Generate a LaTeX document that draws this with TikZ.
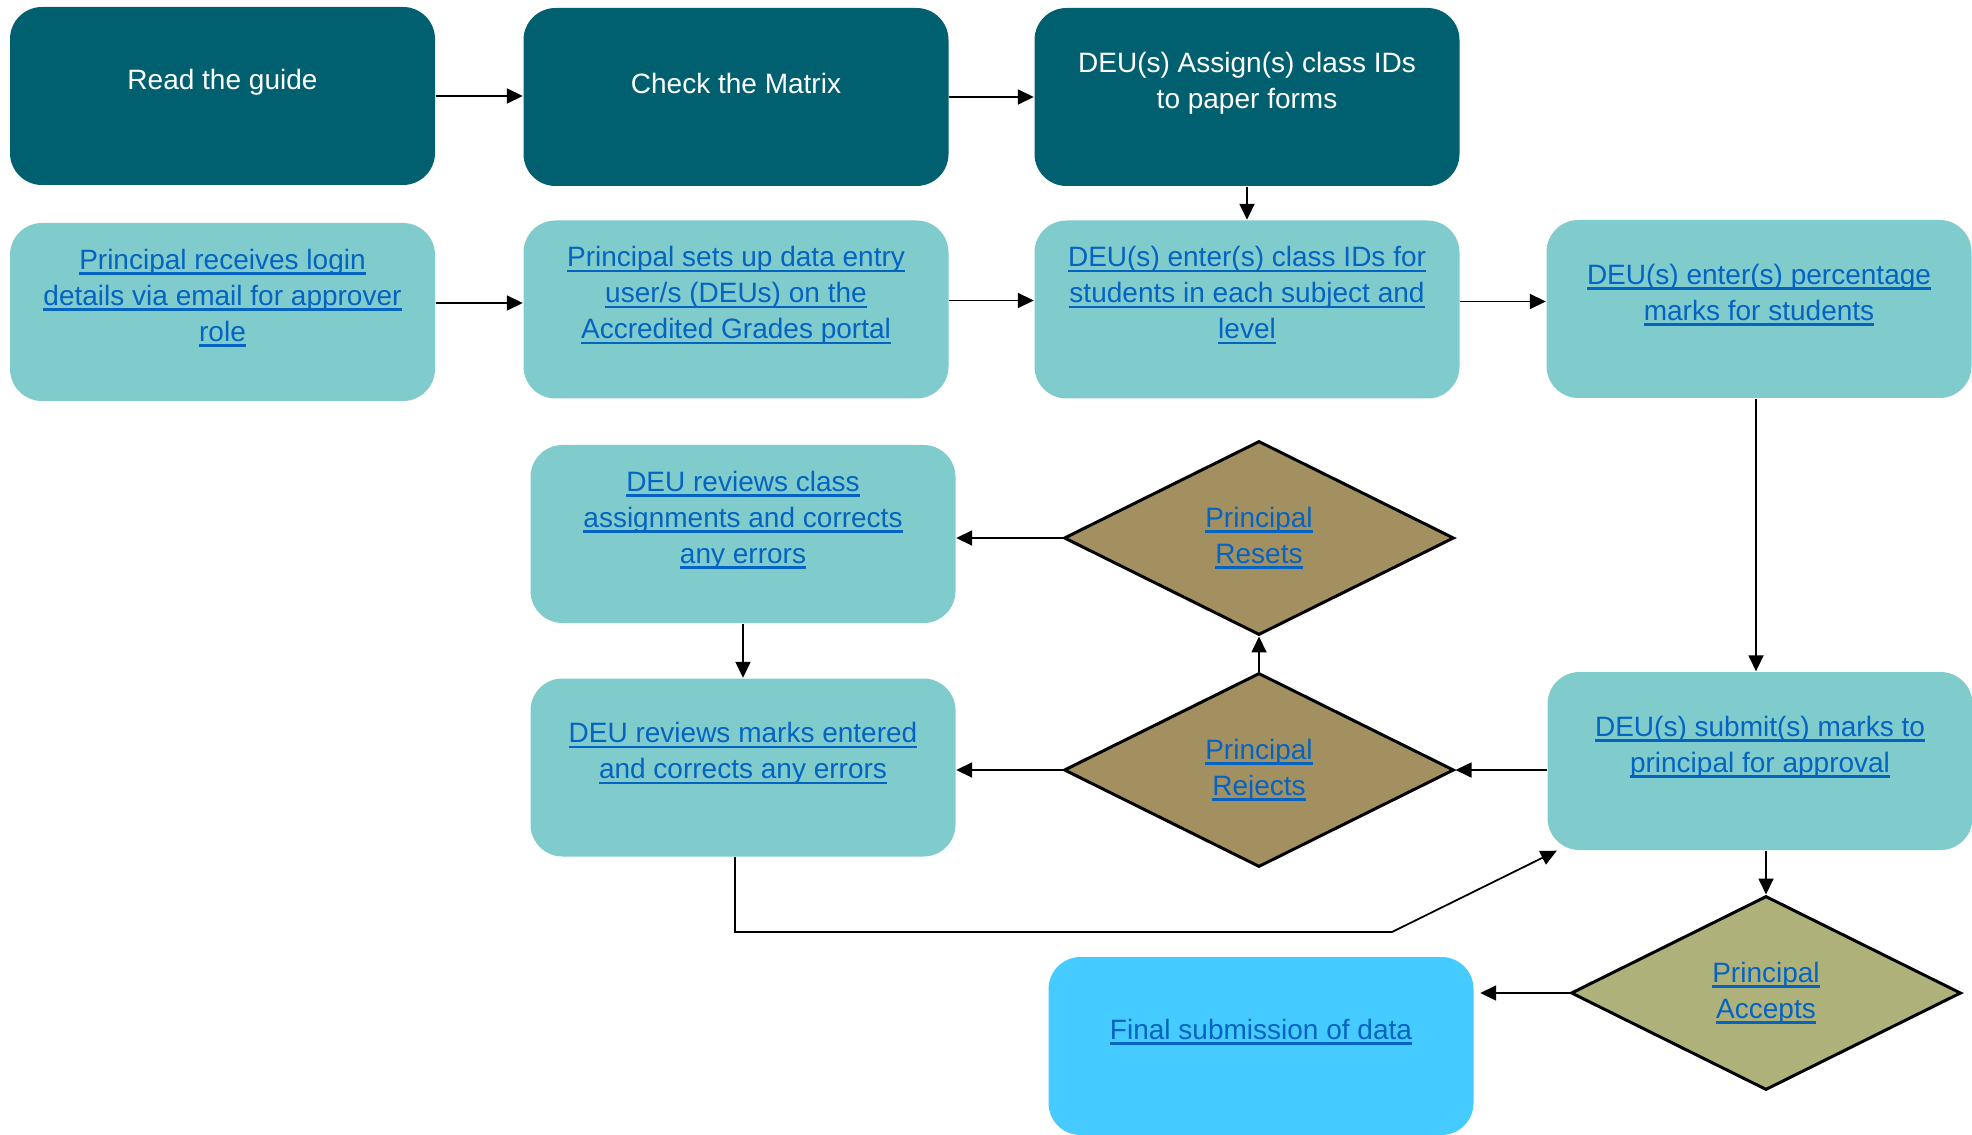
\documentclass[tikz,border=0pt]{standalone}
\usepackage{fontspec}
\setmainfont{Liberation Sans}
\usetikzlibrary{arrows.meta,shapes.geometric}
\usepackage{xcolor}

\definecolor{deepteal}{RGB}{0,96,112}
\definecolor{paleteal}{RGB}{128,203,204}
\definecolor{skyblue}{RGB}{69,203,255}
\definecolor{khaki}{RGB}{163,144,96}
\definecolor{sage}{RGB}{174,178,122}
\definecolor{linkblue}{RGB}{5,99,193}

% underlined link text, one line at a time
\newcommand{\lnk}[1]{\setbox0=\hbox{#1}\rlap{\rule[-.19em]{\wd0}{.085em}}\box0}

\begin{document}
\begin{tikzpicture}[
  x=1cm,y=1cm,
  card/.style={
    rectangle,rounded corners=.32cm,minimum width=4.25cm,
    minimum height=1.78cm,inner sep=0pt
  },
  darkbox/.style={card,fill=deepteal},
  lightbox/.style={card,fill=paleteal},
  finalbox/.style={card,fill=skyblue},
  cardtext/.style={
    align=center,inner sep=0pt,
    font=\fontsize{7.97pt}{10.24pt}\selectfont
  },
  whitetext/.style={cardtext,text=white},
  linktext/.style={cardtext,text=linkblue},
  decision/.style={
    diamond,draw=black,line width=.85pt,minimum width=3.9cm,
    minimum height=1.94cm,inner sep=0pt,linktext
  },
  flow/.style={
    -{Triangle[length=.16cm,width=.15cm]},draw=black,line width=.5pt
  }
]
  \useasboundingbox (0,0) rectangle (19.72,-11.35);

  % top row: preparation
  \node[darkbox] (guide) at (2.225,-.96) {};
  \node[whitetext] (guide-t) at ([yshift=.14cm]guide.center) {Read the guide};
  \node[darkbox] (matrix) at (7.36,-.97) {};
  \node[whitetext] (matrix-t) at ([yshift=.14cm]matrix.center) {Check the Matrix};
  \node[darkbox] (assign) at (12.47,-.97) {};
  \node[whitetext] (assign-t) at ([yshift=.14cm]assign.center)
    {DEU(s) Assign(s) class IDs\\to paper forms};

  % second row: portal set-up and entry
  \node[lightbox] (login) at (2.225,-3.12) {};
  \node[linktext] (login-t) at ([yshift=.14cm]login.center)
    {\lnk{Principal receives login}\\\lnk{details via email for approver}\\\lnk{role}};
  \node[lightbox] (setup) at (7.36,-3.095) {};
  \node[linktext] (setup-t) at ([yshift=.14cm]setup.center)
    {\lnk{Principal sets up data entry}\\\lnk{user/s (DEUs) on the}\\\lnk{Accredited Grades portal}};
  \node[lightbox] (classids) at (12.47,-3.095) {};
  \node[linktext] (classids-t) at ([yshift=.14cm]classids.center)
    {\lnk{DEU(s) enter(s) class IDs for}\\\lnk{students in each subject and}\\\lnk{level}};
  \node[lightbox] (marks) at (17.59,-3.09) {};
  \node[linktext] (marks-t) at ([yshift=.14cm]marks.center)
    {\lnk{DEU(s) enter(s) percentage}\\\lnk{marks for students}};

  % review loop
  \node[lightbox] (fixclass) at (7.43,-5.34) {};
  \node[linktext] (fixclass-t) at ([yshift=.14cm]fixclass.center)
    {\lnk{DEU reviews class}\\\lnk{assignments and corrects}\\\lnk{any errors}};
  \node[lightbox] (fixmarks) at (7.43,-7.675) {};
  \node[linktext] (fixmarks-t) at ([yshift=.14cm]fixmarks.center)
    {\lnk{DEU reviews marks entered}\\\lnk{and corrects any errors}};
  \node[lightbox] (submit) at (17.60,-7.61) {};
  \node[linktext] (submit-t) at ([yshift=.14cm]submit.center)
    {\lnk{DEU(s) submit(s) marks to}\\\lnk{principal for approval}};
  \node[finalbox] (final) at (12.61,-10.46) {};
  \node[linktext] (final-t) at ([yshift=.14cm]final.center)
    {\lnk{Final submission of data}};

  \node[decision,fill=khaki] (resets) at (12.59,-5.38)
    {\lnk{Principal}\\\lnk{Resets}};
  \node[decision,fill=khaki] (rejects) at (12.59,-7.70)
    {\lnk{Principal}\\\lnk{Rejects}};
  \node[decision,fill=sage] (accepts) at (17.66,-9.93)
    {\lnk{Principal}\\\lnk{Accepts}};

  \coordinate (kink) at (13.92,-9.32);

  % connectors
  \draw[flow] (guide.east) -- (guide.east -| matrix.west);
  \draw[flow] (matrix.east) -- (matrix.east -| assign.west);
  \draw[flow] (assign.south) -- (assign.south |- classids.north);
  \draw[flow] ([yshift=.09cm]login.east) -- ([yshift=.09cm]login.east -| setup.west);
  \draw[flow] ([yshift=.09cm]setup.east) -- ([yshift=.09cm]setup.east -| classids.west);
  \draw[flow] ([yshift=.08cm]classids.east) -- ([yshift=.08cm]classids.east -| marks.west);
  \draw[flow] ([xshift=-.03cm]marks.south) -- ([xshift=-.03cm]marks.south |- submit.north);
  \draw[flow] (submit.west |- rejects.east) -- (rejects.east);
  \draw[flow] (rejects.north) -- (resets.south);
  \draw[flow] (resets.west) -- (resets.west -| fixclass.east);
  \draw[flow] (rejects.west) -- (rejects.west -| fixmarks.east);
  \draw[flow] (fixclass.south) -- (fixmarks.north);
  \draw[flow] ([xshift=-.08cm]fixmarks.south) |- (kink)
    -- ([xshift=.1cm]submit.south west);
  \draw[flow] (accepts.north |- submit.south) -- (accepts.north);
  \draw[flow] (accepts.west) -- ([xshift=.06cm]accepts.west -| final.east);
\end{tikzpicture}
\end{document}
